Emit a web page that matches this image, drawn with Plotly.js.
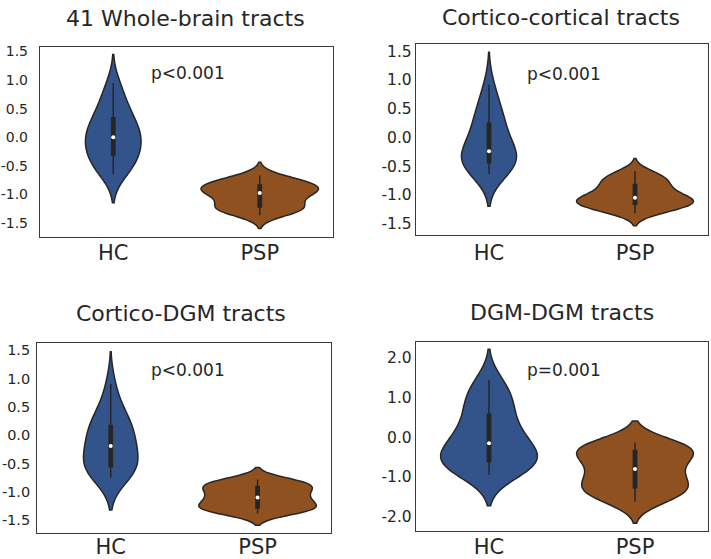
<!DOCTYPE html>
<html>
<head>
<meta charset="utf-8">
<script src="https://cdn.plot.ly/plotly-3.0.1.min.js"></script>
<style>html,body{margin:0;padding:0;background:#fff;}#chart{width:711px;height:559px;}</style>
</head>
<body>
<div id="chart"></div>
<script>
// ---------- data ----------
const categories = ['HC', 'PSP'];
const panelTitles = ['41 Whole-brain tracts', 'Cortico-cortical tracts', 'Cortico-DGM tracts', 'DGM-DGM tracts'];
const pLabels = ['p<0.001', 'p<0.001', 'p<0.001', 'p=0.001'];

// estimated per-subject values (HC group)
const hcWhole = [-0.65, -0.58, -0.50, -0.42, -0.33, -0.27, -0.20, -0.13, -0.06, 0.00, 0.05, 0.11, 0.18, 0.28, 0.36, 0.45, 0.58, 0.75, 0.95];
const hcCortCort = [-0.64, -0.58, -0.53, -0.48, -0.45, -0.41, -0.36, -0.31, -0.27, -0.24, -0.13, -0.03, 0.07, 0.17, 0.27, 0.38, 0.50, 0.65, 0.92];
const hcCortDGM = [-0.75, -0.70, -0.65, -0.61, -0.57, -0.52, -0.45, -0.37, -0.28, -0.19, -0.11, -0.03, 0.04, 0.11, 0.19, 0.28, 0.40, 0.55, 0.90];
const hcDGMDGM = [-0.95, -0.85, -0.75, -0.68, -0.63, -0.59, -0.50, -0.40, -0.30, -0.15, -0.05, 0.05, 0.20, 0.45, 0.62, 0.80, 1.00, 1.20, 1.44];

// estimated per-subject values (PSP group)
const pspWhole = [-1.37, -1.33, -1.30, -1.28, -1.26, -1.25, -1.23, -1.22, -1.19, -1.15, -1.10, -1.05, -1.02, -1.00, -0.98,
  -0.96, -0.95, -0.93, -0.92, -0.90, -0.87, -0.84, -0.83, -0.82, -0.80, -0.78, -0.76, -0.72, -0.67];
const pspCortCort = [-1.32, -1.30, -1.27, -1.24, -1.21, -1.19, -1.17, -1.16, -1.14, -1.12, -1.11, -1.10, -1.09, -1.07, -1.05,
  -1.03, -1.00, -0.97, -0.94, -0.91, -0.87, -0.83, -0.80, -0.77, -0.74, -0.71, -0.67, -0.63, -0.59];
const pspCortDGM = [-1.38, -1.36, -1.34, -1.33, -1.31, -1.30, -1.29, -1.28, -1.25, -1.22, -1.19, -1.17, -1.15, -1.12, -1.10,
  -1.07, -1.04, -1.02, -0.99, -0.96, -0.93, -0.91, -0.89, -0.87, -0.86, -0.84, -0.82, -0.80, -0.78];
const pspDGMDGM = [-1.62, -1.55, -1.50, -1.45, -1.40, -1.35, -1.30, -1.26, -1.20, -1.14, -1.08, -1.02, -0.95, -0.88, -0.80,
  -0.72, -0.65, -0.58, -0.52, -0.46, -0.40, -0.34, -0.31, -0.28, -0.25, -0.22, -0.19, -0.16, -0.135];

// KDE bandwidths (estimated from the drawn violin extents)
const bandwidthHC = [0.25, 0.28, 0.285, 0.385];
const bandwidthPSP = [0.115, 0.11, 0.105, 0.27];

// tick labels
const tickValsA = [-1.5, -1.0, -0.5, 0.0, 0.5, 1.0, 1.5];
const tickTextA = ['-1.5', '-1.0', '-0.5', '0.0', '0.5', '1.0', '1.5'];
const tickValsB = [-2, -1, 0, 1, 2];
const tickTextB = ['-2.0', '-1.0', '0.0', '1.0', '2.0'];

const hcSeries = [hcWhole, hcCortCort, hcCortDGM, hcDGMDGM];
const pspSeries = [pspWhole, pspCortCort, pspCortDGM, pspDGMDGM];

// ---------- layout helpers ----------
const W = 711, H = 559;
const boxes = [ // plot frames in px: x0, x1, y0, y1
  [40, 333, 47, 237],
  [416, 708, 44.3, 235],
  [37.3, 331, 342.7, 532.7],
  [416, 708, 341.7, 530.7]
];
const yRanges = [[-1.75, 1.58], [-1.70, 1.62], [-1.72, 1.63], [-2.35, 2.40]];
const titlePos = [[185.3, 18.8], [561, 17.5], [181.3, 313.3], [562.2, 312.8]];
const pPos = [[148.7, 72.7], [525.3, 74], [148.7, 370], [525.3, 370]];
const yStandoff = [8, 0, 3, 0];
const yTickSize = [14, 15.5, 14.5, 15.5];
const xStandoff = [-3, -1, -5, -3];

const HC_COLOR = '#33548a';
const PSP_COLOR = '#8f511f';
const DARK = '#262626';

function median(arr) {
  const s = arr.slice().sort((a, b) => a - b);
  const n = s.length;
  return n % 2 ? s[(n - 1) / 2] : (s[n / 2 - 1] + s[n / 2]) / 2;
}

const traces = [];
const layout = {
  width: W, height: H,
  margin: {l: 0, r: 0, t: 0, b: 0},
  paper_bgcolor: '#fff', plot_bgcolor: '#fff',
  showlegend: false,
  violinmode: 'overlay', violingap: 0.2, violingroupgap: 0,
  font: {family: 'DejaVu Sans', color: DARK},
  annotations: []
};

for (let i = 0; i < 4; i++) {
  const sfx = i === 0 ? '' : String(i + 1);
  const xa = 'x' + sfx, ya = 'y' + sfx;
  const groups = [[categories[0], hcSeries[i], HC_COLOR, bandwidthHC[i]], [categories[1], pspSeries[i], PSP_COLOR, bandwidthPSP[i]]];
  groups.forEach(([cat, vals, col, bw]) => {
    traces.push({
      type: 'violin', xaxis: xa, yaxis: ya,
      x: vals.map(() => cat), y: vals,
      bandwidth: bw, spanmode: 'soft',
      scalegroup: 'panel' + i, scalemode: 'width',
      fillcolor: col, opacity: 1,
      line: {color: DARK, width: 1.5},
      points: false,
      box: {visible: true, width: 0.028, fillcolor: DARK, line: {color: DARK, width: 1.5}},
      meanline: {visible: false},
      hoverinfo: 'skip'
    });
    traces.push({
      type: 'scatter', mode: 'markers', xaxis: xa, yaxis: ya,
      x: [cat], y: [median(vals)],
      marker: {color: '#fff', size: 4, line: {width: 0}},
      hoverinfo: 'skip'
    });
  });
  const b = boxes[i];
  layout['xaxis' + sfx] = {
    domain: [b[0] / W, b[1] / W], anchor: ya,
    type: 'category', categoryarray: categories, range: [-0.5, 1.5],
    showline: true, mirror: true, linecolor: '#3a3a3a', linewidth: 1.2,
    showgrid: false, zeroline: false, ticks: '',
    tickfont: {size: 21, color: DARK}, ticklabelstandoff: xStandoff[i],
    fixedrange: true
  };
  layout['yaxis' + sfx] = {
    domain: [1 - b[3] / H, 1 - b[2] / H], anchor: xa,
    range: yRanges[i],
    tickvals: i === 3 ? tickValsB : tickValsA,
    ticktext: i === 3 ? tickTextB : tickTextA,
    showline: true, mirror: true, linecolor: '#3a3a3a', linewidth: 1.2,
    showgrid: false, zeroline: false, ticks: '',
    tickfont: {size: yTickSize[i], color: DARK}, ticklabelstandoff: yStandoff[i],
    fixedrange: true
  };
  layout.annotations.push({
    text: panelTitles[i], xref: 'paper', yref: 'paper',
    x: titlePos[i][0] / W, y: 1 - titlePos[i][1] / H,
    xanchor: 'center', yanchor: 'middle', showarrow: false,
    font: {size: 22, color: DARK, family: 'DejaVu Sans'}
  });
  layout.annotations.push({
    text: pLabels[i], xref: 'paper', yref: 'paper',
    x: pPos[i][0] / W, y: 1 - pPos[i][1] / H,
    xanchor: 'left', yanchor: 'middle', showarrow: false,
    font: {size: 17, color: DARK, family: 'DejaVu Sans'}
  });
}

Plotly.newPlot('chart', traces, layout, {staticPlot: true, displayModeBar: false});
</script>
</body>
</html>
